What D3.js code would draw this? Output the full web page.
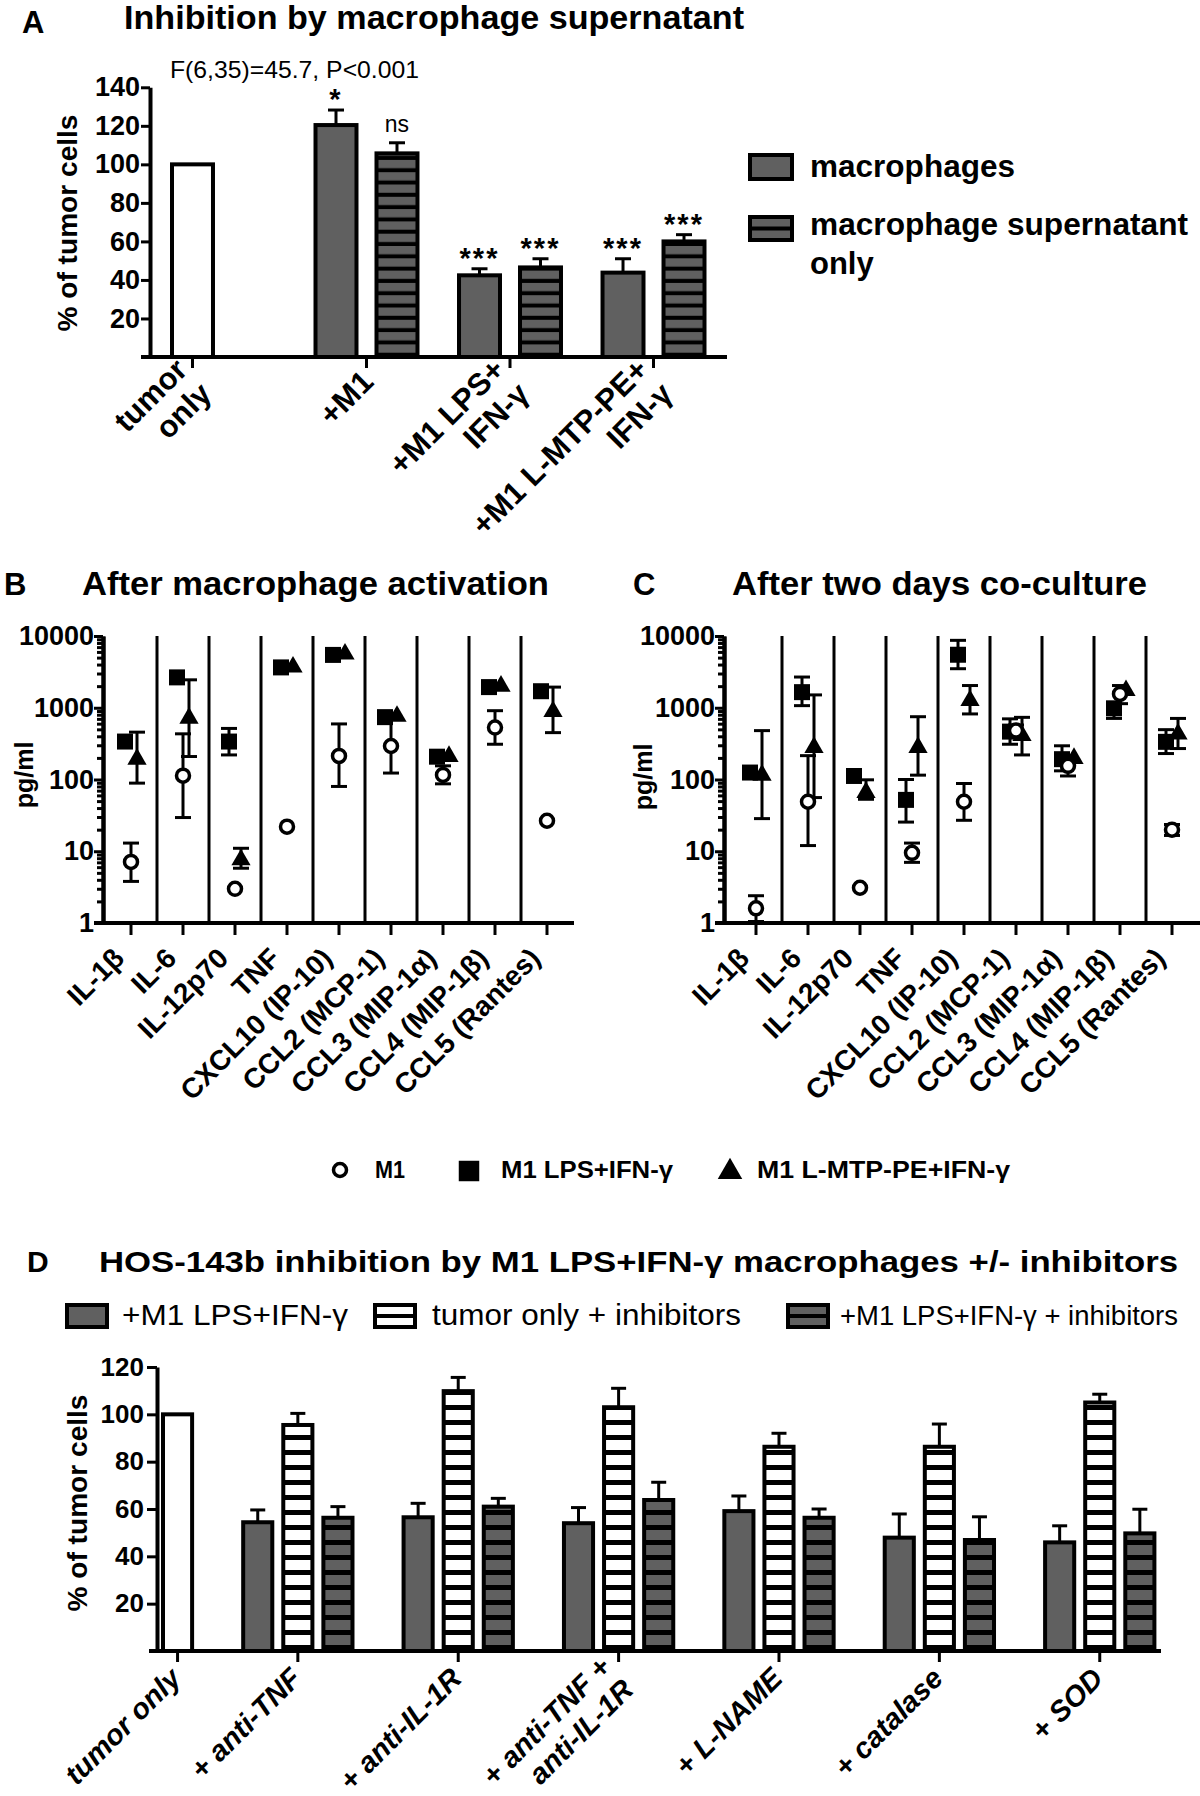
<!DOCTYPE html>
<html>
<head>
<meta charset="utf-8">
<script src="https://cdnjs.cloudflare.com/ajax/libs/d3/7.8.5/d3.min.js"></script>
<style>
  body { margin: 0; background: #fff; }
  svg { display: block; font-family: "Liberation Sans", Arial, Helvetica, sans-serif; }
</style>
</head>
<body>
<svg id="fig" width="1200" height="1796"></svg>
<script>
// ---------- A: inhibition by macrophage supernatant
var aCats = ["tumor only", "+M1", "+M1 LPS+IFN-γ", "+M1 L-MTP-PE+IFN-γ"];
var aLabels = [["tumor", "only"], ["+M1"], ["+M1 LPS+", "IFN-γ"], ["+M1 L-MTP-PE+", "IFN-γ"]];
var aSeries = ["macrophages", "macrophage supernatant only"];
var aTumorOnly = 100;
var aMacro = [null, 120.4, 42.4, 43.8];
var aMacroErr = [null, 7.8, 3.4, 7.2];
var aSuper = [null, 105.7, 46.5, 60];
var aSuperErr = [null, 5.5, 4.5, 3.5];
var aMacroSig = ["", "*", "***", "***"];
var aSuperSig = ["", "ns", "***", "***"];
var aTicks = [20, 40, 60, 80, 100, 120, 140];

// ---------- B / C: cytokines (pg/ml)
var cytoCats = ["IL-1β", "IL-6", "IL-12p70", "TNF", "CXCL10 (IP-10)", "CCL2 (MCP-1)", "CCL3 (MIP-1α)", "CCL4 (MIP-1β)", "CCL5 (Rantes)"];
var cytoSeries = ["M1", "M1 LPS+IFN-γ", "M1 L-MTP-PE+IFN-γ"];
var logTicks = [1, 10, 100, 1000, 10000];

// B: after macrophage activation
var bM1 = [7.1, 113, 3.0, 22, 213, 293, 116, 530, 26.6];
var bM1Lo = [3.8, 29.5, null, null, 80, 123, 87, 310, null];
var bM1Hi = [13, 433, null, null, 595, 700, 155, 910, null];
var bLps = [338, 2650, 338, 3650, 5450, 740, 208, 1940, 1700];
var bLpsLo = [null, null, 220, null, null, null, null, null, null];
var bLpsHi = [null, null, 515, null, null, null, null, null, null];
var bMtp = [192, 715, 7.6, 3700, 5600, 760, 210, 2000, 885];
var bMtpLo = [89, 209, 5.8, null, null, null, null, null, 450];
var bMtpHi = [457, 2450, 11, null, null, null, null, null, 1940];

// C: after two days co-culture
var cM1 = [1.6, 49, 3.1, 9.5, 49, 480, 155, 1560, 20];
var cM1Lo = [1.05, 12, null, 7, 27, 400, 112, 1140, 16.6];
var cM1Hi = [2.4, 215, null, 13, 88, 575, 192, 2040, 23.6];
var cLps = [125, 1650, 112, 52, 5480, 465, 192, 980, 335];
var cLpsLo = [null, 1070, null, 25.5, 3500, 310, 132, 710, 230];
var cLpsHi = [null, 2680, null, 100, 8700, 700, 295, 1190, 495];
var cMtp = [115, 280, 66, 280, 1260, 410, 197, 1740, 430];
var cMtpLo = [28.5, 56, 53, 115, 820, 220, null, null, 270];
var cMtpHi = [480, 1510, 99, 750, 2040, 735, null, null, 710];

// ---------- D: HOS-143b inhibition +/- inhibitors
var dCats = ["tumor only", "+ anti-TNF", "+ anti-IL-1R", "+ anti-TNF + anti-IL-1R", "+ L-NAME", "+ catalase", "+ SOD"];
var dLabels = [["tumor only"], ["+ anti-TNF"], ["+ anti-IL-1R"], ["+ anti-TNF +", "anti-IL-1R"], ["+ L-NAME"], ["+ catalase"], ["+ SOD"]];
var dSeries = ["+M1 LPS+IFN-γ", "tumor only + inhibitors", "+M1 LPS+IFN-γ + inhibitors"];
var dTumorOnly = 100;
var dM1 = [54.4, 56.5, 54, 59.1, 47.9, 45.9];
var dM1Err = [5.2, 5.9, 6.6, 6.4, 10, 7];
var dTumorInh = [95.5, 109.8, 103, 86.3, 86.3, 105];
var dTumorInhErr = [4.9, 5.8, 8, 5.7, 9.6, 3.5];
var dM1Inh = [56.3, 61, 63.8, 56.3, 46.9, 49.7];
var dM1InhErr = [4.7, 3.5, 7.5, 3.7, 9.8, 10.2];
var dTicks = [20, 40, 60, 80, 100, 120];

var GRAY = "#606060";
var svg = d3.select("#fig");
var defs = svg.append("defs");

function stripes(id, bg, period, bar) {
  var p = defs.append("pattern").attr("id", id)
    .attr("patternUnits", "userSpaceOnUse").attr("width", 10).attr("height", period);
  p.append("rect").attr("width", 10).attr("height", period).attr("fill", bg);
  p.append("rect").attr("y", period - bar).attr("width", 10).attr("height", bar).attr("fill", "#000");
}
stripes("stripeA", GRAY, 12.3, 4);
stripes("stripeW", "#fff", 15, 5);
stripes("stripeG", GRAY, 15, 5);

function txt(x, y, s, size, opts) {
  opts = opts || {};
  var t = svg.append("text").attr("x", x).attr("y", y).text(s)
    .style("font-size", size + "px")
    .style("font-weight", opts.normal ? "normal" : "bold");
  if (opts.len) t.attr("textLength", opts.len).attr("lengthAdjust", "spacingAndGlyphs");
  if (opts.anchor) t.attr("text-anchor", opts.anchor);
  return t;
}

function vlabel(x, y, s, size, len) {
  var t = svg.append("text").attr("transform", "translate(" + x + "," + y + ") rotate(-90)")
    .attr("text-anchor", "middle").style("font-size", size + "px").style("font-weight", "bold").text(s);
  if (len) t.attr("textLength", len).attr("lengthAdjust", "spacingAndGlyphs");
}

function rotLabels(items, xpos, y0, size, italic) {
  items.forEach(function(lines, i) {
    var t = svg.append("text")
      .attr("transform", "translate(" + xpos(i) + "," + y0 + ") rotate(-45)")
      .attr("text-anchor", "end")
      .style("font-size", size + "px").style("font-weight", "bold")
      .style("font-style", italic ? "italic" : "normal");
    var n = lines.length;
    lines.forEach(function(l, j) {
      t.append("tspan").attr("x", 0).attr("y", ((j - (n - 1) / 2) * 1.1) + "em").attr("dy", "0.35em").text(l);
    });
  });
}

function styleAxis(g, size) {
  g.select(".domain").attr("stroke-width", 4).attr("stroke", "#000");
  g.selectAll(".tick line").attr("stroke-width", 3);
  g.selectAll(".tick text").style("font-size", size + "px").style("font-weight", "bold")
    .style("font-family", "'Liberation Sans', Arial, sans-serif").attr("fill", "#000");
}

function hline(x1, x2, y) {
  svg.append("line").attr("x1", x1).attr("x2", x2).attr("y1", y).attr("y2", y)
    .attr("stroke", "#000").attr("stroke-width", 4);
}

// ================= Panel A =================
txt(22, 33, "A", 31);
txt(124, 29, "Inhibition by macrophage supernatant", 33, {len: 620});
txt(170, 78, "F(6,35)=45.7, P<0.001", 24, {normal: true, len: 249});

var yA = d3.scaleLinear().domain([0, 140]).range([357, 87.3]);
var xA0 = d3.scaleBand().domain(aCats).range([162, 714.5]).paddingInner(0.15);
var xA1 = d3.scaleBand().domain(aSeries).range([0, xA0.bandwidth()]).paddingInner(0.328).paddingOuter(0.164);

var aBars = [{cat: aCats[0], s: aSeries[0], v: aTumorOnly, e: null, sig: "", fill: "#fff"}];
aCats.forEach(function(c, i) {
  if (aMacro[i] != null) aBars.push({cat: c, s: aSeries[0], v: aMacro[i], e: aMacroErr[i], sig: aMacroSig[i], fill: GRAY});
  if (aSuper[i] != null) aBars.push({cat: c, s: aSeries[1], v: aSuper[i], e: aSuperErr[i], sig: aSuperSig[i], fill: "url(#stripeA)"});
});
aBars.forEach(function(d) { d.cx = xA0(d.cat) + xA1(d.s) + xA1.bandwidth() / 2; });

function drawBars(bars, y, bw, capW) {
  var g = svg.append("g");
  g.selectAll("line.err").data(bars.filter(function(d) { return d.e; })).enter().append("line")
    .attr("x1", function(d) { return d.cx; }).attr("x2", function(d) { return d.cx; })
    .attr("y1", function(d) { return y(d.v); }).attr("y2", function(d) { return y(d.v + d.e); })
    .attr("stroke", "#000").attr("stroke-width", 3);
  g.selectAll("line.cap").data(bars.filter(function(d) { return d.e; })).enter().append("line")
    .attr("x1", function(d) { return d.cx - capW / 2; }).attr("x2", function(d) { return d.cx + capW / 2; })
    .attr("y1", function(d) { return y(d.v + d.e); }).attr("y2", function(d) { return y(d.v + d.e); })
    .attr("stroke", "#000").attr("stroke-width", 3);
  g.selectAll("rect").data(bars).enter().append("rect")
    .attr("x", function(d) { return d.cx - bw / 2; })
    .attr("y", function(d) { return y(d.v); })
    .attr("width", bw)
    .attr("height", function(d) { return y(0) - y(d.v); })
    .attr("fill", function(d) { return d.fill; })
    .attr("stroke", "#000").attr("stroke-width", 4);
  return g;
}
drawBars(aBars, yA, xA1.bandwidth(), 16);

// significance marks
svg.append("g").selectAll("text").data(aBars.filter(function(d) { return d.sig; })).enter().append("text")
  .attr("x", function(d) { return d.cx; })
  .attr("y", function(d) { return yA(d.v + d.e) - (d.sig === "ns" ? 11 : 1); })
  .attr("text-anchor", "middle")
  .style("font-size", function(d) { return d.sig === "ns" ? "23px" : "29px"; })
  .style("font-weight", function(d) { return d.sig === "ns" ? "normal" : "bold"; })
  .style("letter-spacing", function(d) { return d.sig === "ns" ? "0px" : "2px"; })
  .text(function(d) { return d.sig; });

var gAy = svg.append("g").attr("transform", "translate(150,0)")
  .call(d3.axisLeft(yA).tickValues(aTicks).tickSize(9).tickPadding(1).tickSizeOuter(0));
styleAxis(gAy, 27);
hline(141, 727, yA(0));
function aTickX(i) {
  var b = aBars.filter(function(d) { return d.cat === aCats[i]; });
  return d3.mean(b, function(d) { return d.cx; });
}
svg.append("g").selectAll("line").data(aCats).enter().append("line")
  .attr("x1", function(d, i) { return aTickX(i); }).attr("x2", function(d, i) { return aTickX(i); })
  .attr("y1", yA(0)).attr("y2", yA(0) + 11).attr("stroke", "#000").attr("stroke-width", 3);
rotLabels(aLabels, function(i) { return aTickX(i) + 1; }, 376, 31, false);
vlabel(77, 223, "% of tumor cells", 28, 217);

// legend A
svg.append("rect").attr("x", 750).attr("y", 155).attr("width", 42).attr("height", 24)
  .attr("fill", GRAY).attr("stroke", "#000").attr("stroke-width", 4);
svg.append("rect").attr("x", 750).attr("y", 217).attr("width", 42).attr("height", 23)
  .attr("fill", GRAY).attr("stroke", "#000").attr("stroke-width", 4);
hline(750, 792, 228.5);
txt(810, 177, aSeries[0], 31, {len: 205});
txt(810, 235, "macrophage supernatant", 31, {len: 378});
txt(810, 274, "only", 31);

// ================= Panels B and C =================
function cytoPanel(o) {
  var x = d3.scaleBand().domain(cytoCats).range(o.xr);
  var y = d3.scaleLog().domain([1, 10000]).range([923, 636]);
  var off = d3.scalePoint().domain([cytoSeries[1], cytoSeries[0], cytoSeries[2]]).range([-6, 6]);
  var g = svg.append("g");

  // separators between cytokines
  g.selectAll("line.sep").data(cytoCats.slice(1)).enter().append("line")
    .attr("x1", function(d) { return x(d); }).attr("x2", function(d) { return x(d); })
    .attr("y1", y(10000)).attr("y2", y(1)).attr("stroke", "#000").attr("stroke-width", 3);

  var minors = [];
  for (var k = 0; k < 4; k++) for (var m = 2; m <= 9; m++) minors.push(m * Math.pow(10, k));
  var gm = svg.append("g").attr("transform", "translate(" + o.axisX + ",0)")
    .call(d3.axisLeft(y).tickValues(minors).tickSize(6).tickFormat("").tickSizeOuter(0));
  styleAxis(gm, 27);
  var gy = svg.append("g").attr("transform", "translate(" + o.axisX + ",0)")
    .call(d3.axisLeft(y).tickValues(logTicks).tickSize(9).tickPadding(0).tickFormat(d3.format("d")).tickSizeOuter(0));
  styleAxis(gy, 27);

  hline(o.axisX - 9, o.xEnd, y(1));
  g.selectAll("line.tk").data(cytoCats).enter().append("line")
    .attr("x1", function(d) { return x(d) + x.bandwidth() / 2; })
    .attr("x2", function(d) { return x(d) + x.bandwidth() / 2; })
    .attr("y1", y(1)).attr("y2", y(1) + 12).attr("stroke", "#000").attr("stroke-width", 3);

  // error bars then markers; draw order square, triangle, circle
  var order = [1, 2, 0];
  order.forEach(function(si) {
    var s = o.series[si];
    var pts = cytoCats.map(function(c, i) {
      return {cx: x(c) + x.bandwidth() / 2 + off(cytoSeries[si]), v: s.v[i], lo: s.lo[i], hi: s.hi[i]};
    });
    var eb = pts.filter(function(d) { return d.lo != null; });
    g.selectAll(null).data(eb).enter().append("line")
      .attr("x1", function(d) { return d.cx; }).attr("x2", function(d) { return d.cx; })
      .attr("y1", function(d) { return y(d.lo); }).attr("y2", function(d) { return y(d.hi); })
      .attr("stroke", "#000").attr("stroke-width", 3);
    ["lo", "hi"].forEach(function(key) {
      g.selectAll(null).data(eb).enter().append("line")
        .attr("x1", function(d) { return d.cx - 8; }).attr("x2", function(d) { return d.cx + 8; })
        .attr("y1", function(d) { return y(d[key]); }).attr("y2", function(d) { return y(d[key]); })
        .attr("stroke", "#000").attr("stroke-width", 3);
    });
    s.pts = pts;
  });
  order.forEach(function(si) {
    var s = o.series[si];
    if (si === 0) {
      g.selectAll(null).data(s.pts).enter().append("circle")
        .attr("cx", function(d) { return d.cx; }).attr("cy", function(d) { return y(d.v); })
        .attr("r", 6.5).attr("fill", "#fff").attr("stroke", "#000").attr("stroke-width", 3.5);
    } else {
      var sym = d3.symbol().type(si === 1 ? d3.symbolSquare : d3.symbolTriangle).size(si === 1 ? 256 : 160);
      g.selectAll(null).data(s.pts).enter().append("path")
        .attr("transform", function(d) { return "translate(" + d.cx + "," + y(d.v) + ")"; })
        .attr("d", sym).attr("fill", "#000");
    }
  });

  rotLabels(cytoCats.map(function(c) { return [c]; }),
    function(i) { return x(cytoCats[i]) + x.bandwidth() / 2 - 12; }, 953, 28, false);
}

txt(4, 595, "B", 31);
txt(82, 595, "After macrophage activation", 33, {len: 467});
vlabel(33, 775, "pg/ml", 25);
cytoPanel({
  xr: [105, 573], axisX: 103, xEnd: 574,
  series: [{v: bM1, lo: bM1Lo, hi: bM1Hi}, {v: bLps, lo: bLpsLo, hi: bLpsHi}, {v: bMtp, lo: bMtpLo, hi: bMtpHi}]
});

txt(633, 595, "C", 31);
txt(732, 595, "After two days co-culture", 33, {len: 415});
vlabel(652, 777, "pg/ml", 25);
cytoPanel({
  xr: [730, 1198], axisX: 724, xEnd: 1200,
  series: [{v: cM1, lo: cM1Lo, hi: cM1Hi}, {v: cLps, lo: cLpsLo, hi: cLpsHi}, {v: cMtp, lo: cMtpLo, hi: cMtpHi}]
});

// legend for B and C
svg.append("circle").attr("cx", 340).attr("cy", 1170).attr("r", 6.5)
  .attr("fill", "#fff").attr("stroke", "#000").attr("stroke-width", 3.5);
txt(375, 1178, cytoSeries[0], 23, {len: 30});
svg.append("path").attr("transform", "translate(469,1171)").attr("d", d3.symbol().type(d3.symbolSquare).size(420)).attr("fill", "#000");
txt(501, 1178, cytoSeries[1], 23, {len: 172});
svg.append("path").attr("transform", "translate(730,1172)").attr("d", d3.symbol().type(d3.symbolTriangle).size(260)).attr("fill", "#000");
txt(757, 1178, cytoSeries[2], 23, {len: 253});

// ================= Panel D =================
txt(27, 1272, "D", 30);
txt(99, 1272, "HOS-143b inhibition by M1 LPS+IFN-γ macrophages +/- inhibitors", 30, {len: 1079});

var yD = d3.scaleLinear().domain([0, 120]).range([1651, 1367]);
var slots = [];
dCats.forEach(function(c, i) {
  if (i > 0) slots.push("gap" + i);
  if (i === 0) slots.push(c + "|tumor");
  else dSeries.forEach(function(s) { slots.push(c + "|" + s); });
});
var xD = d3.scaleBand().domain(slots).range([163, 1154.4]).paddingInner(0.274).paddingOuter(0);
function slotX(key) { return xD(key) + xD.bandwidth() / 2; }

var dBars = [{cat: dCats[0], v: dTumorOnly, e: null, fill: "#fff", cx: slotX(dCats[0] + "|tumor")}];
var dFills = [GRAY, "url(#stripeW)", "url(#stripeG)"];
var dVals = [dM1, dTumorInh, dM1Inh], dErrs = [dM1Err, dTumorInhErr, dM1InhErr];
dCats.slice(1).forEach(function(c, i) {
  dSeries.forEach(function(s, si) {
    dBars.push({cat: c, v: dVals[si][i], e: dErrs[si][i], fill: dFills[si], cx: slotX(c + "|" + s)});
  });
});
drawBars(dBars, yD, xD.bandwidth(), 15);

var gDy = svg.append("g").attr("transform", "translate(157,0)")
  .call(d3.axisLeft(yD).tickValues(dTicks).tickSize(10).tickPadding(3).tickSizeOuter(0));
styleAxis(gDy, 26);
hline(149, 1161, yD(0));
function dTickX(i) {
  var b = dBars.filter(function(d) { return d.cat === dCats[i]; });
  return d3.mean(b, function(d) { return d.cx; });
}
svg.append("g").selectAll("line").data(dCats).enter().append("line")
  .attr("x1", function(d, i) { return dTickX(i); }).attr("x2", function(d, i) { return dTickX(i); })
  .attr("y1", yD(0)).attr("y2", yD(0) + 11).attr("stroke", "#000").attr("stroke-width", 3);
rotLabels(dLabels, function(i) { return dTickX(i) - 2; }, 1673, 29, true);
vlabel(87, 1503, "% of tumor cells", 28, 217);

// legend D
var dSw = [[67, GRAY], [375, "#fff"], [788, GRAY]];
dSw.forEach(function(sw, i) {
  svg.append("rect").attr("x", sw[0]).attr("y", 1305).attr("width", 40).attr("height", 22)
    .attr("fill", sw[1]).attr("stroke", "#000").attr("stroke-width", 4);
  if (i > 0) hline(sw[0], sw[0] + 40, 1316);
});
txt(122, 1325, dSeries[0], 29, {normal: true, len: 226});
txt(432, 1325, dSeries[1], 29, {normal: true, len: 309});
txt(840, 1325, dSeries[2], 27, {normal: true, len: 338});
</script>
</body>
</html>
